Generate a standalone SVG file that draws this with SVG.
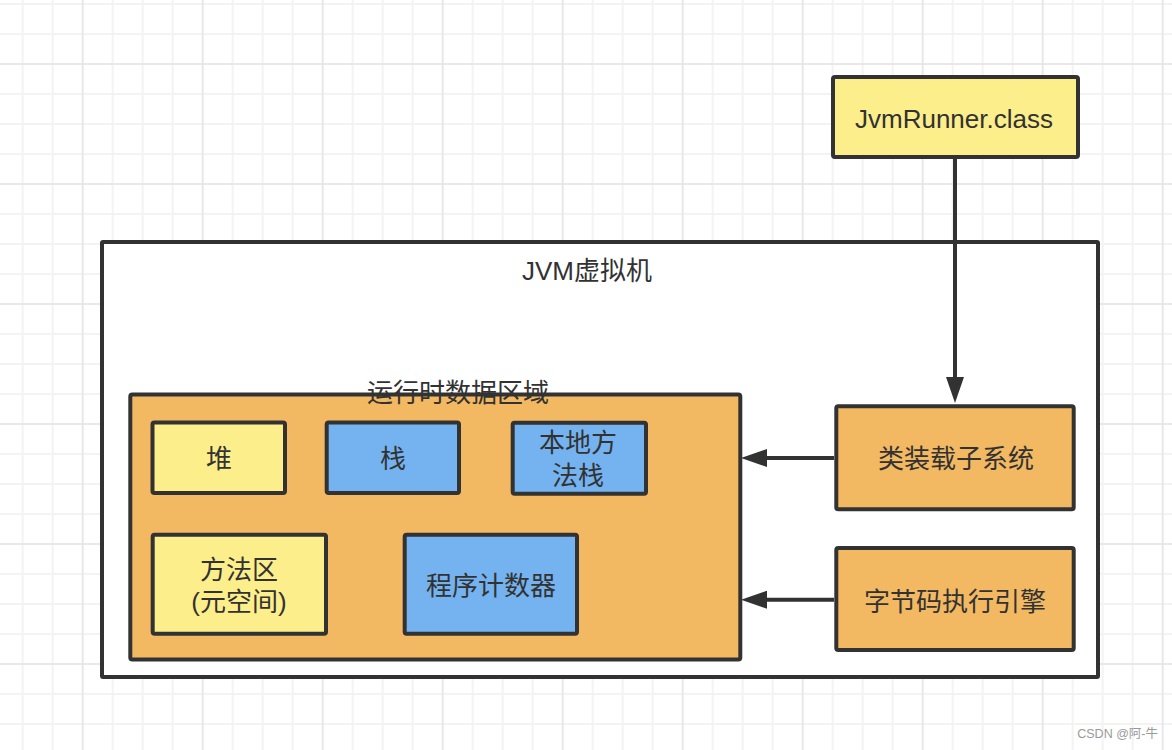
<svg xmlns="http://www.w3.org/2000/svg" width="1172" height="750" viewBox="0 0 1172 750">
  <style>
    .box { stroke: #323232; stroke-width: 4; }
    .yellow { fill: #FCEE8A; }
    .blue { fill: #74B3EF; }
    .orange { fill: #F3B862; }
    .white { fill: #FFFFFF; }
    .lbl { font-family: "Liberation Sans", "Noto Sans CJK SC", sans-serif; font-size: 26px; fill: #323232; text-anchor: middle; }
    .conn { stroke: #323232; stroke-width: 4; fill: none; }
  </style>
  <defs>
    <pattern id="grid" x="67.7" y="49" width="120" height="120" patternUnits="userSpaceOnUse">
      <g stroke="#F3F3F3" stroke-width="2">
        <line x1="45" y1="0" x2="45" y2="120"/>
        <line x1="75" y1="0" x2="75" y2="120"/>
        <line x1="105" y1="0" x2="105" y2="120"/>
        <line x1="0" y1="45" x2="120" y2="45"/>
        <line x1="0" y1="75" x2="120" y2="75"/>
        <line x1="0" y1="105" x2="120" y2="105"/>
      </g>
      <g stroke="#E8E8E8" stroke-width="2">
        <line x1="15" y1="0" x2="15" y2="120"/>
        <line x1="0" y1="15" x2="120" y2="15"/>
      </g>
    </pattern>
    <marker id="arrow" viewBox="0 0 26 18" refX="2" refY="9" markerWidth="26" markerHeight="18" markerUnits="userSpaceOnUse" orient="auto">
      <path d="M0,0 L26,9 L0,18 Z" fill="#323232"/>
    </marker>
  </defs>

  <rect x="0" y="0" width="1172" height="750" fill="#FFFFFF"/>
  <rect x="0" y="0" width="1172" height="750" fill="url(#grid)"/>

  <g id="jvm">
    <rect class="box white" x="102" y="242" width="996" height="435" rx="1"/>
    <text class="lbl" x="587" y="279.5">JVM虚拟机</text>
  </g>

  <g id="jvmrunner">
    <rect class="box yellow" x="833" y="77" width="245" height="80" rx="2"/>
    <text class="lbl" x="954" y="127.7">JvmRunner.class</text>
  </g>

  <g id="runtime">
    <rect class="box orange" x="130.3" y="394.5" width="610" height="265" rx="2"/>
    <text class="lbl" x="458" y="402">运行时数据区域</text>
  </g>

  <g id="heap">
    <rect class="box yellow" x="152.5" y="422.5" width="132.5" height="70.5" rx="2"/>
    <text class="lbl" x="219" y="468">堆</text>
  </g>

  <g id="stack">
    <rect class="box blue" x="326.7" y="422.5" width="132.3" height="70.5" rx="2"/>
    <text class="lbl" x="393" y="468">栈</text>
  </g>

  <g id="native-stack">
    <rect class="box blue" x="512.7" y="422.7" width="133.3" height="71" rx="2"/>
    <text class="lbl" x="578" y="452">本地方</text>
    <text class="lbl" x="578" y="484.5">法栈</text>
  </g>

  <g id="method-area">
    <rect class="box yellow" x="152.7" y="534.7" width="173.3" height="99" rx="2"/>
    <text class="lbl" x="239" y="578.5">方法区</text>
    <text class="lbl" x="239" y="610.5">(元空间)</text>
  </g>

  <g id="pc-register">
    <rect class="box blue" x="404.7" y="534.7" width="172.3" height="99" rx="2"/>
    <text class="lbl" x="491" y="594.5">程序计数器</text>
  </g>

  <g id="classloader">
    <rect class="box orange" x="836.3" y="406.3" width="237.4" height="103" rx="2"/>
    <text class="lbl" x="956" y="468">类装载子系统</text>
  </g>

  <g id="engine">
    <rect class="box orange" x="836.3" y="548" width="237.4" height="102" rx="2"/>
    <text class="lbl" x="955" y="610.5">字节码执行引擎</text>
  </g>

  <g id="connectors">
    <line class="conn" x1="955" y1="157" x2="955" y2="379" marker-end="url(#arrow)"/>
    <line class="conn" x1="834" y1="458" x2="765" y2="458" marker-end="url(#arrow)"/>
    <line class="conn" x1="834" y1="599.7" x2="765" y2="599.7" marker-end="url(#arrow)"/>
  </g>

  <text x="1158" y="738" font-family="Liberation Sans, Noto Sans CJK SC, sans-serif" font-size="12.5" fill="#9A9A9A" text-anchor="end">CSDN @阿-牛</text>
</svg>
